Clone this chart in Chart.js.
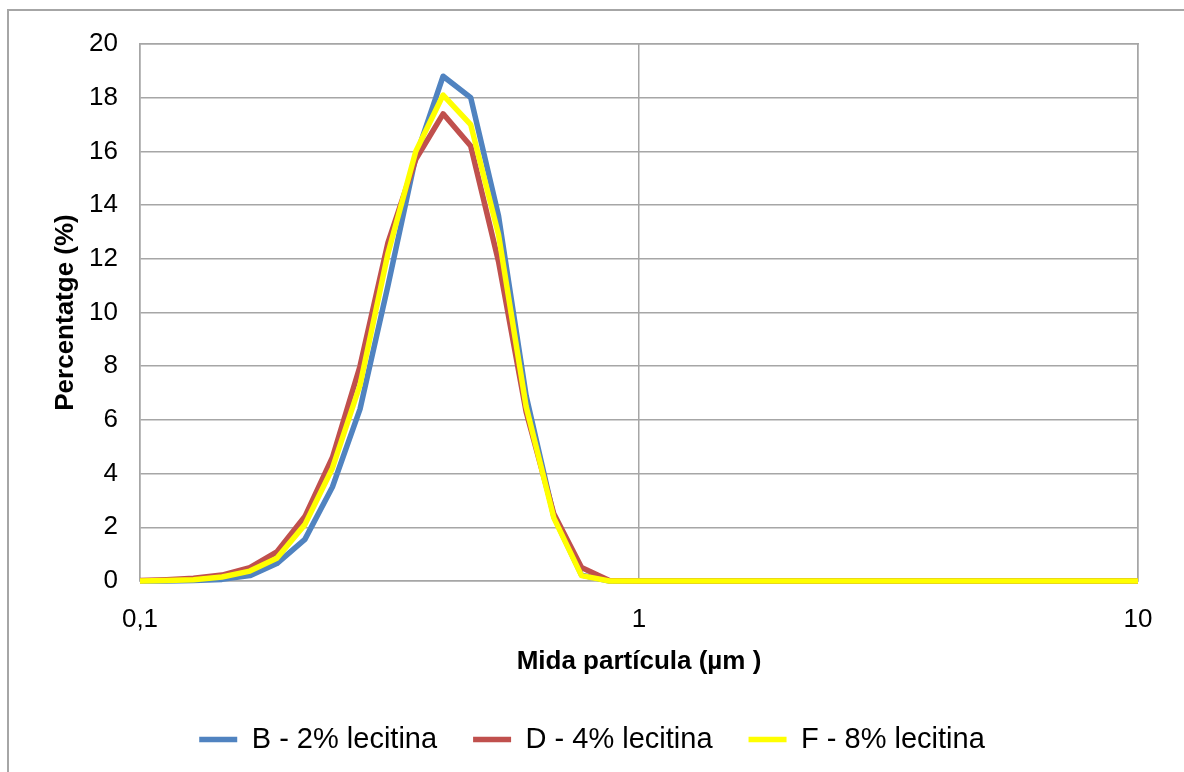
<!DOCTYPE html>
<html lang="ca">
<head>
<meta charset="UTF-8">
<title>Distribució de mida de partícula</title>
<script src="https://cdn.jsdelivr.net/npm/chart.js"></script>
<style>
    html, body {
        margin: 0;
        padding: 0;
        background: #ffffff;
        overflow: hidden;
        width: 1184px;
        height: 772px;
    }
    .frame {
        position: absolute;
        left: 7px;
        top: 9px;
        width: 1300px;
        height: 900px;
        border-left: 2px solid #a6a6a6;
        border-top: 2px solid #a6a6a6;
    }
    #chart {
        position: absolute;
        left: 0;
        top: 0;
    }
</style>
</head>
<body>
<div class="frame"></div>
<canvas id="chart" width="1184" height="772"></canvas>

<script>
    // mida de partícula (µm), classes de l'analitzador
    const sizes = [0.0995, 0.113, 0.128, 0.146, 0.166, 0.188, 0.214, 0.243, 0.276, 0.314,
        0.357, 0.405, 0.460, 0.523, 0.594, 0.675, 0.767, 0.872, 0.991, 1.13,
        1.28, 1.45, 1.65, 1.88, 2.13, 2.42, 2.75, 3.12, 3.55, 4.03,
        4.58, 5.21, 5.92, 6.72, 7.64, 8.68, 9.86, 11.2];

    // percentatge en volum per a cada mostra
    const lecB = [0, 0, 0.02, 0.06, 0.2, 0.65, 1.55, 3.5, 6.4, 11.0,
        15.8, 18.8, 18.0, 13.6, 6.9, 2.4, 0.22, 0, 0, 0,
        0, 0, 0, 0, 0, 0, 0, 0, 0, 0,
        0, 0, 0, 0, 0, 0, 0, 0];
    const lecD = [0.02, 0.05, 0.1, 0.22, 0.5, 1.08, 2.4, 4.6, 8.0, 12.6,
        15.7, 17.4, 16.2, 11.9, 6.3, 2.5, 0.5, 0.02, 0, 0,
        0, 0, 0, 0, 0, 0, 0, 0, 0, 0,
        0, 0, 0, 0, 0, 0, 0, 0];
    const lecF = [0, 0.02, 0.05, 0.15, 0.37, 0.85, 2.1, 4.2, 7.3, 12.2,
        16.0, 18.1, 17.0, 12.9, 6.5, 2.35, 0.2, 0, 0, 0,
        0, 0, 0, 0, 0, 0, 0, 0, 0, 0,
        0, 0, 0, 0, 0, 0, 0, 0];

    const seriesNames = ['B - 2% lecitina', 'D - 4% lecitina', 'F - 8% lecitina'];
    const xTicks = [0.1, 1, 10];

    const FONT = "'Liberation Sans', Arial, sans-serif";
    const GRID = '#a6a6a6';

    function toPoints(values) {
        return values.map((v, i) => ({ x: sizes[i], y: v }));
    }

    function serie(label, values, color, order) {
        return {
            label: label,
            data: toPoints(values),
            borderColor: color,
            backgroundColor: color,
            borderWidth: 5.5,
            borderJoinStyle: 'round',
            borderCapStyle: 'round',
            pointRadius: 0,
            pointStyle: 'line',
            tension: 0,
            order: order,
            clip: { left: 0, right: 0, top: 6, bottom: 6 }
        };
    }

    const ctx = document.getElementById('chart').getContext('2d');
    new Chart(ctx, {
        type: 'line',
        data: {
            datasets: [
                serie(seriesNames[0], lecB, '#5083c0', 3),
                serie(seriesNames[1], lecD, '#c0504d', 2),
                serie(seriesNames[2], lecF, '#ffff00', 1)
            ]
        },
        options: {
            responsive: false,
            devicePixelRatio: 1,
            animation: false,
            layout: {
                padding: { top: 44, right: 0, left: 0, bottom: 8 }
            },
            scales: {
                x: {
                    type: 'logarithmic',
                    min: 0.1,
                    max: 10,
                    afterBuildTicks: scale => {
                        scale.ticks = xTicks.map(v => ({ value: v, major: true }));
                    },
                    afterFit: scale => { scale.height = 108; },
                    border: { display: true, color: GRID, width: 1.5 },
                    grid: { color: GRID, lineWidth: 1.5, drawTicks: false },
                    ticks: {
                        color: '#000',
                        padding: 23,
                        maxRotation: 0,
                        autoSkip: false,
                        font: { family: FONT, size: 26 },
                        callback: v => String(v).replace('.', ',')
                    },
                    title: {
                        display: true,
                        text: 'Mida partícula (µm )',
                        color: '#000',
                        padding: { top: 0, bottom: 12 },
                        font: { family: FONT, size: 26, weight: 'bold' }
                    }
                },
                y: {
                    min: 0,
                    max: 20,
                    afterFit: scale => { scale.width = 140; },
                    border: { display: true, color: GRID, width: 1.5 },
                    grid: { color: GRID, lineWidth: 1.5, drawTicks: false },
                    ticks: {
                        stepSize: 2,
                        color: '#000',
                        padding: 22,
                        font: { family: FONT, size: 26 }
                    },
                    title: {
                        display: true,
                        text: 'Percentatge (%)',
                        color: '#000',
                        padding: { top: 50, bottom: 0 },
                        font: { family: FONT, size: 26, weight: 'bold' }
                    }
                },
                // marc superior i dret de l'àrea del gràfic
                x2: {
                    type: 'logarithmic',
                    position: 'top',
                    min: 0.1,
                    max: 10,
                    afterFit: scale => { scale.height = 0; },
                    border: { display: true, color: GRID, width: 1.5 },
                    grid: { display: false },
                    ticks: { display: false }
                },
                y2: {
                    position: 'right',
                    min: 0,
                    max: 20,
                    afterFit: scale => { scale.width = 46; },
                    border: { display: true, color: GRID, width: 1.5 },
                    grid: { display: false },
                    ticks: { display: false }
                }
            },
            plugins: {
                tooltip: { enabled: false },
                legend: {
                    position: 'bottom',
                    labels: {
                        usePointStyle: true,
                        pointStyleWidth: 38,
                        padding: 36,
                        color: '#000',
                        font: { family: FONT, size: 29 },
                        sort: (a, b) => a.datasetIndex - b.datasetIndex
                    }
                }
            }
        }
    });
</script>
</body>
</html>
